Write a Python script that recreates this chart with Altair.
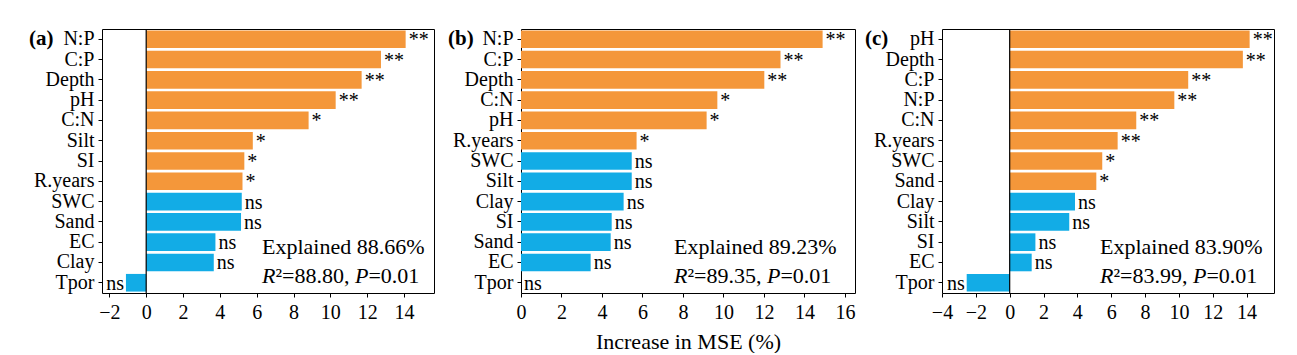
import altair as alt
import pandas as pd

# ---------------- data ----------------
vars_a = ["N:P", "C:P", "Depth", "pH", "C:N", "Silt", "SI", "R.years", "SWC", "Sand", "EC", "Clay", "Tpor"]
vals_a = [14.09, 12.75, 11.70, 10.29, 8.82, 5.79, 5.33, 5.23, 5.19, 5.15, 3.76, 3.67, -1.10]
sig_a = ["**", "**", "**", "**", "*", "*", "*", "*", "ns", "ns", "ns", "ns", "ns"]

vars_b = ["N:P", "C:P", "Depth", "C:N", "pH", "R.years", "SWC", "Silt", "Clay", "SI", "Sand", "EC", "Tpor"]
vals_b = [14.90, 12.82, 12.02, 9.70, 9.17, 5.71, 5.47, 5.47, 5.07, 4.48, 4.43, 3.44, 0.0]
sig_b = ["**", "**", "**", "*", "*", "*", "ns", "ns", "ns", "ns", "ns", "ns", "ns"]

vars_c = ["pH", "Depth", "C:P", "N:P", "C:N", "R.years", "SWC", "Sand", "Clay", "Silt", "SI", "EC", "Tpor"]
vals_c = [14.18, 13.78, 10.55, 9.73, 7.48, 6.38, 5.47, 5.12, 3.86, 3.52, 1.52, 1.30, -2.54]
sig_c = ["**", "**", "**", "**", "**", "**", "*", "*", "ns", "ns", "ns", "ns", "ns"]

tags = ["(a)", "(b)", "(c)"]
explained = ["Explained 88.66%", "Explained 89.23%", "Explained 83.90%"]
r2_vals = ["88.80", "89.35", "83.99"]
p_vals = ["0.01", "0.01", "0.01"]
x_domains = [[-2.4, 15.63], [0, 16.5], [-4, 15.62]]
x_ticks = [[-2, 0, 2, 4, 6, 8, 10, 12, 14],
           [0, 2, 4, 6, 8, 10, 12, 14, 16],
           [-4, -2, 0, 2, 4, 6, 8, 10, 12, 14]]
x_title = "Increase in MSE (%)"

# ---------------- style ----------------
ORANGE = "#F4973A"
BLUE = "#12ACE6"
FONT = "Liberation Serif"
H = 264
ANN = 22


def panel(vars_, vals, sigs, idx, width, ann_x, tag_x, show_title, zero_rule):
    df = pd.DataFrame({"var": vars_, "val": vals, "sig": sigs})
    df["grp"] = ["ns" if s == "ns" else "sig" for s in sigs]

    y_enc = alt.Y("var:N", sort=vars_,
                  scale=alt.Scale(paddingInner=0.13, paddingOuter=0.07),
                  axis=alt.Axis(title=None))
    x_axis = alt.Axis(values=x_ticks[idx], labelOverlap=False,
                      title=x_title if show_title else None)
    x_enc = alt.X("val:Q", scale=alt.Scale(domain=x_domains[idx], nice=False, zero=False),
                  axis=x_axis)

    base = alt.Chart(df).encode(x=x_enc, y=y_enc)
    bars = base.mark_bar().encode(
        color=alt.Color("grp:N", scale=alt.Scale(domain=["sig", "ns"], range=[ORANGE, BLUE]),
                        legend=None))
    txt_pos = base.transform_filter("datum.val >= 0").mark_text(
        align="left", baseline="middle", dx=3, dy=1, font=FONT, fontSize=20, color="black"
    ).encode(text="sig:N")
    txt_neg = base.transform_filter("datum.val < 0").mark_text(
        align="right", baseline="middle", dx=-2, dy=1, font=FONT, fontSize=20, color="black"
    ).encode(text="sig:N")

    layers = [bars, txt_pos, txt_neg]
    if zero_rule:
        zdf = pd.DataFrame({"val": [0]})
        rule = alt.Chart(zdf).mark_rule(color="black", strokeWidth=1.2).encode(x=x_enc)
        layers.append(rule)

    one = pd.DataFrame({"k": [0]})
    tag = alt.Chart(one).mark_text(align="left", baseline="middle", font=FONT, fontSize=21,
                                   fontWeight="bold", color="black").encode(
        x=alt.value(tag_x), y=alt.value(10), text=alt.value(tags[idx]))
    exp = alt.Chart(one).mark_text(align="left", baseline="alphabetic", font=FONT,
                                   fontSize=ANN, color="black").encode(
        x=alt.value(ann_x), y=alt.value(225), text=alt.value(explained[idx]))
    # R^2 line in pieces (italic R and P)
    yb = 254
    w_it = 0.611 * ANN
    w_mid = (0.3 + 0.564 + 2.0 + 0.25 + 0.25 + 0.25) * ANN
    pieces = [("R", "italic", ann_x),
              ("\u00b2=" + r2_vals[idx] + ", ", "normal", ann_x + w_it),
              ("P", "italic", ann_x + w_it + w_mid),
              ("=" + p_vals[idx], "normal", ann_x + 2 * w_it + w_mid)]
    for t, st, xx in pieces:
        layers.append(alt.Chart(one).mark_text(align="left", baseline="alphabetic", font=FONT,
                                               fontSize=ANN, fontStyle=st, color="black").encode(
            x=alt.value(xx), y=alt.value(yb), text=alt.value(t)))
    layers += [tag, exp]
    return alt.layer(*layers).properties(width=width, height=H)


pa = panel(vars_a, vals_a, sig_a, 0, 332, 160, -73, False, True)
pb = panel(vars_b, vals_b, sig_b, 1, 334, 153, -73, True, False)
pc = panel(vars_c, vals_c, sig_c, 2, 332, 158, -77, False, True)

chart = alt.hconcat(pa, pb, pc, spacing=87, bounds="flush").properties(
    padding={"left": 28, "top": 27, "right": 5, "bottom": 0},
    background="white",
).configure_view(stroke="black", strokeWidth=1).configure_axis(
    grid=False, domain=False, tickSize=4, tickColor="black", tickWidth=1,
    labelFont=FONT, labelColor="black",
    titleFont=FONT, titleFontSize=22, titleFontWeight="normal", titleColor="black",
).configure_axisX(labelFontSize=20, labelPadding=5, titlePadding=9, labelOverlap=False,
                  labelFlush=False
).configure_axisY(labelFontSize=20, labelPadding=4)

chart.save("out.html", embed_options={"renderer": "svg", "actions": False})
